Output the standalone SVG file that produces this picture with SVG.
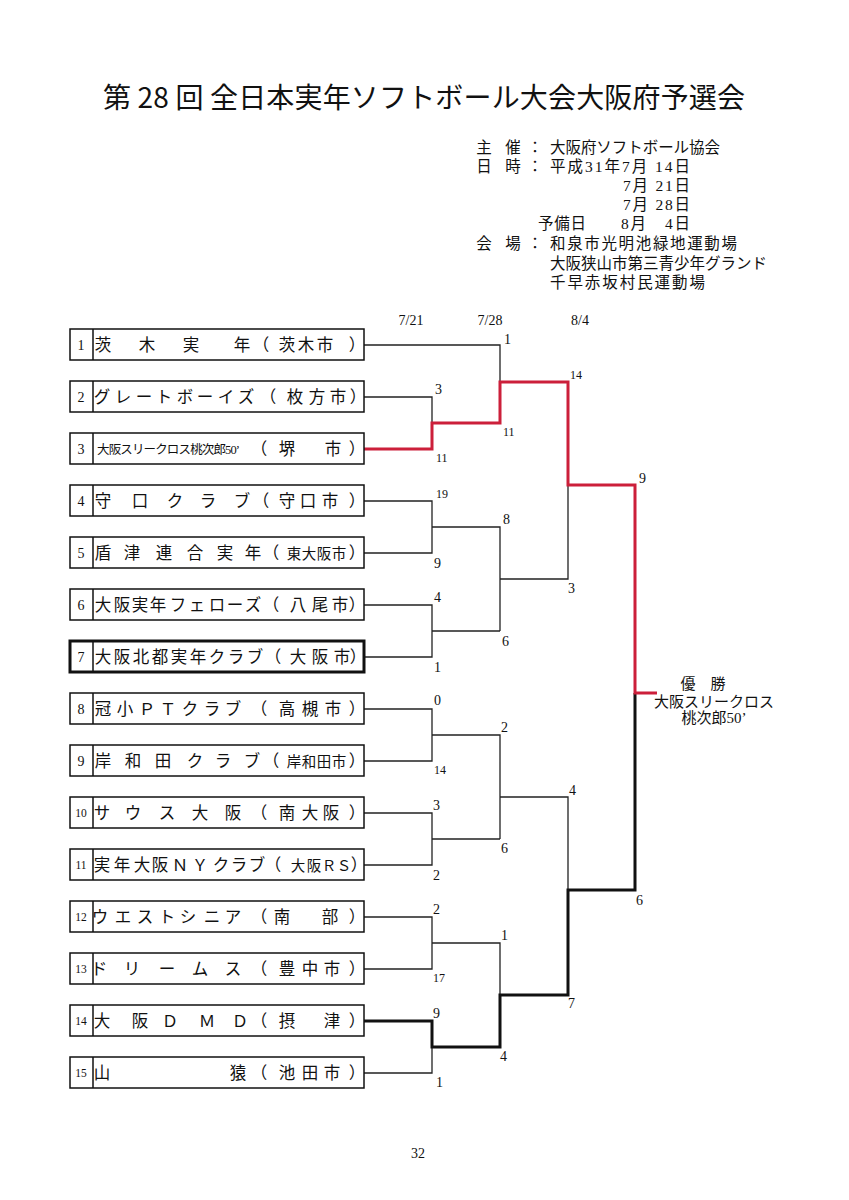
<svg xmlns="http://www.w3.org/2000/svg" width="849" height="1200" viewBox="0 0 849 1200">
<style>
.cjk{font-family:"Liberation Serif","Noto Sans CJK JP",serif;fill:#111}
.title{font-family:"Noto Sans CJK JP","Noto Sans CJK SC",sans-serif;font-size:28px;fill:#111}
.hd{font-size:15.5px}
.tm{font-size:16.5px;text-anchor:middle}
.tms{font-size:14.5px;text-anchor:middle}
.num{font-family:"Liberation Serif",serif;font-size:14px;text-anchor:middle;fill:#111}
.nums{font-family:"Liberation Serif",serif;font-size:11.5px;text-anchor:middle;fill:#111}
.sc{font-family:"Liberation Serif",serif;font-size:14px;fill:#111}
.scs{font-family:"Liberation Serif",serif;font-size:12px;fill:#111}
.box{fill:#fff;stroke:#111;stroke-width:1.5}
.boxb{fill:#fff;stroke:#111;stroke-width:3}
.sep{stroke:#111;stroke-width:1.5}
.thin{fill:none;stroke:#222;stroke-width:1.3}
.thick{fill:none;stroke:#111;stroke-width:3}
.red{fill:none;stroke:#cc1f3a;stroke-width:3}
</style>
<rect width="849" height="1200" fill="#fff"/>
<text class="title" x="103" y="108" textLength="642">第 28 回 全日本実年ソフトボール大会大阪府予選会</text>
<g id="header" class="cjk hd">
<text x="484" y="153" text-anchor="middle">主</text><text x="513" y="153" text-anchor="middle">催</text><text x="535" y="153" text-anchor="middle">：</text>
<text x="550" y="153" textLength="170">大阪府ソフトボール協会</text>
<text x="484" y="172" text-anchor="middle">日</text><text x="513" y="172" text-anchor="middle">時</text><text x="535" y="172" text-anchor="middle">：</text>
<text x="550" y="172" textLength="140">平成31年7月 14日</text>
<text x="623" y="191" textLength="67">7月 21日</text>
<text x="623" y="210" textLength="67">7月 28日</text>
<text x="538" y="229" textLength="48">予備日</text>
<text x="621" y="229" textLength="69">8月　4日</text>
<text x="484" y="249" text-anchor="middle">会</text><text x="513" y="249" text-anchor="middle">場</text><text x="535" y="249" text-anchor="middle">：</text>
<text x="550" y="249" textLength="187">和泉市光明池緑地運動場</text>
<text x="550" y="269" textLength="217">大阪狭山市第三青少年グランド</text>
<text x="550" y="288" textLength="155">千早赤坂村民運動場</text>
</g>
<g id="dates" class="sc" text-anchor="middle">
<text x="411" y="325">7/21</text><text x="490" y="325">7/28</text><text x="580" y="325">8/4</text>
</g>
<g id="connectors">
<path class="thin" d="M364 345 H500 V382"/>
<path class="thin" d="M364 397 H432 V423"/>
<path class="thin" d="M364 501 H432 V553 H364 M432 527 H500 V631 M500 579 H568 V485"/>
<path class="thin" d="M364 605 H432 V657 H364 M432 631 H500"/>
<path class="thin" d="M364 709 H432 V761 H364 M432 735 H500 V839 M500 797 H568 V890"/>
<path class="thin" d="M364 813 H432 V865 H364 M432 839 H500"/>
<path class="thin" d="M364 917 H432 V969 H364 M432 943 H500 V995"/>
<path class="thin" d="M364 1073 H432 V1047"/>
<path class="thick" d="M364 1021 H432 V1047 H500 V995 H568 V890 H635 V693"/>
<path class="red" d="M364 449 H432 V423 H500 V382 H568 V485 H635 V693 H657"/>
</g>
<g id="scores">
<text class="sc" x="504" y="344">1</text>
<text class="sc" x="435" y="394">3</text>
<text class="scs" x="436" y="462">11</text>
<text class="scs" x="503" y="436">11</text>
<text class="scs" x="570" y="379">14</text>
<text class="sc" x="639" y="483">9</text>
<text class="scs" x="436" y="498">19</text>
<text class="sc" x="434" y="568">9</text>
<text class="sc" x="503" y="524">8</text>
<text class="sc" x="568" y="593">3</text>
<text class="sc" x="434" y="602">4</text>
<text class="sc" x="502" y="646">6</text>
<text class="sc" x="434" y="672">1</text>
<text class="sc" x="434" y="705">0</text>
<text class="scs" x="434" y="774">14</text>
<text class="sc" x="501" y="732">2</text>
<text class="sc" x="433" y="810">3</text>
<text class="sc" x="433" y="880">2</text>
<text class="sc" x="501" y="853">6</text>
<text class="sc" x="569" y="795">4</text>
<text class="sc" x="636" y="905">6</text>
<text class="sc" x="433" y="914">2</text>
<text class="scs" x="433" y="982">17</text>
<text class="sc" x="501" y="940">1</text>
<text class="sc" x="433" y="1018">9</text>
<text class="sc" x="436" y="1087">1</text>
<text class="sc" x="500" y="1061">4</text>
<text class="sc" x="568" y="1008">7</text>
</g>
<g id="winner" class="cjk" font-size="15" text-anchor="middle">
<text x="703" y="689">優　勝</text>
<text x="714" y="707">大阪スリークロス</text>
<text x="714" y="723">桃次郎50’</text>
</g>
<g id="team1"><rect class="box" x="70" y="329" width="294" height="31"/><line class="sep" x1="93" y1="329" x2="93" y2="360"/>
<text class="num" x="81" y="350">1</text>
<text class="cjk tm" y="351" x="103 147 191 242 261 287 306 325 357">茨木実年（茨木市）</text></g>
<g id="team2"><rect class="box" x="70" y="381" width="294" height="31"/><line class="sep" x1="93" y1="381" x2="93" y2="412"/>
<text class="num" x="81" y="402">2</text>
<text class="cjk tm" y="403" x="102 123 144 164 185 205 226 246 268 295 317 338 358">グレートボーイズ（枚方市）</text></g>
<g id="team3"><rect class="box" x="70" y="433" width="294" height="31"/><line class="sep" x1="93" y1="433" x2="93" y2="464"/>
<text class="num" x="81" y="454">3</text>
<text class="cjk" font-size="12.5" x="97" y="454" textLength="143">大阪スリークロス桃次郎50’</text>
<text class="cjk tm" y="455" x="259 287 333 357">（堺市）</text></g>
<g id="team4"><rect class="box" x="70" y="485" width="294" height="31"/><line class="sep" x1="93" y1="485" x2="93" y2="516"/>
<text class="num" x="81" y="506">4</text>
<text class="cjk tm" y="507" x="103 140 175 208 242 261 287 308 330 357">守口クラブ（守口市）</text></g>
<g id="team5"><rect class="box" x="70" y="537" width="294" height="31"/><line class="sep" x1="93" y1="537" x2="93" y2="568"/>
<text class="num" x="81" y="558">5</text>
<text class="cjk tm" y="559" x="103 132 164 195 225 253 271">盾津連合実年（</text>
<text class="cjk tms" y="559" x="294 309 324 339">東大阪市</text>
<text class="cjk tm" y="559" x="357">）</text></g>
<g id="team6"><rect class="box" x="70" y="589" width="294" height="31"/><line class="sep" x1="93" y1="589" x2="93" y2="620"/>
<text class="num" x="81" y="610">6</text>
<text class="cjk tm" y="611" x="103 122 140 158 178 197 217 235 253 271 298 320 340 357">大阪実年フェローズ（八尾市）</text></g>
<g id="team7"><rect class="boxb" x="70" y="641" width="294" height="31"/><line class="sep" x1="93" y1="641" x2="93" y2="672"/>
<text class="num" x="81" y="662">7</text>
<text class="cjk tm" y="663" x="103 122 141 160 179 198 217 236 255 273 298 320 342 358">大阪北都実年クラブ（大阪市）</text></g>
<g id="team8"><rect class="box" x="70" y="693" width="294" height="31"/><line class="sep" x1="93" y1="693" x2="93" y2="724"/>
<text class="num" x="81" y="714">8</text>
<text class="cjk tm" y="715" x="103 125 147 168 190 212 233 259 287 310 333 357">冠小ＰＴクラブ（高槻市）</text></g>
<g id="team9"><rect class="box" x="70" y="745" width="294" height="31"/><line class="sep" x1="93" y1="745" x2="93" y2="776"/>
<text class="num" x="81" y="766">9</text>
<text class="cjk tm" y="767" x="103 133 163 195 223 252 271">岸和田クラブ（</text>
<text class="cjk tms" y="767" x="294 309 324 339">岸和田市</text>
<text class="cjk tm" y="767" x="357">）</text></g>
<g id="team10"><rect class="box" x="70" y="797" width="294" height="31"/><line class="sep" x1="93" y1="797" x2="93" y2="828"/>
<text class="nums" x="81" y="817">10</text>
<text class="cjk tm" y="819" x="102 133 167 200 233 259 287 310 331 357">サウス大阪（南大阪）</text></g>
<g id="team11"><rect class="box" x="70" y="849" width="294" height="31"/><line class="sep" x1="93" y1="849" x2="93" y2="880"/>
<text class="nums" x="81" y="869">11</text>
<text class="cjk tm" y="871" x="102 122 142 160 180 200 221 239 257 273">実年大阪ＮＹクラブ（</text>
<text class="cjk tms" y="871" x="298 314 329 344">大阪ＲＳ</text>
<text class="cjk tm" y="871" x="359">）</text></g>
<g id="team12"><rect class="box" x="70" y="901" width="294" height="31"/><line class="sep" x1="93" y1="901" x2="93" y2="932"/>
<text class="nums" x="81" y="921">12</text>
<text class="cjk tm" y="923" x="100 123 145 167 188 212 233 259 282 330 357">ウエストシニア（南部）</text></g>
<g id="team13"><rect class="box" x="70" y="953" width="294" height="31"/><line class="sep" x1="93" y1="953" x2="93" y2="984"/>
<text class="nums" x="81" y="973">13</text>
<text class="cjk tm" y="975" x="99 132 167 200 233 259 287 310 332 357">ドリームス（豊中市）</text></g>
<g id="team14"><rect class="box" x="70" y="1005" width="294" height="31"/><line class="sep" x1="93" y1="1005" x2="93" y2="1036"/>
<text class="nums" x="81" y="1025">14</text>
<text class="cjk tm" y="1027" x="102 140 170 207 240 259 287 332 357">大阪ＤＭＤ（摂津）</text></g>
<g id="team15"><rect class="box" x="70" y="1057" width="294" height="31"/><line class="sep" x1="93" y1="1057" x2="93" y2="1088"/>
<text class="nums" x="81" y="1077">15</text>
<text class="cjk tm" y="1079" x="102 238 259 287 310 332 357">山猿（池田市）</text></g>
<text class="sc" x="418" y="1158" text-anchor="middle" font-size="13">32</text>
</svg>
